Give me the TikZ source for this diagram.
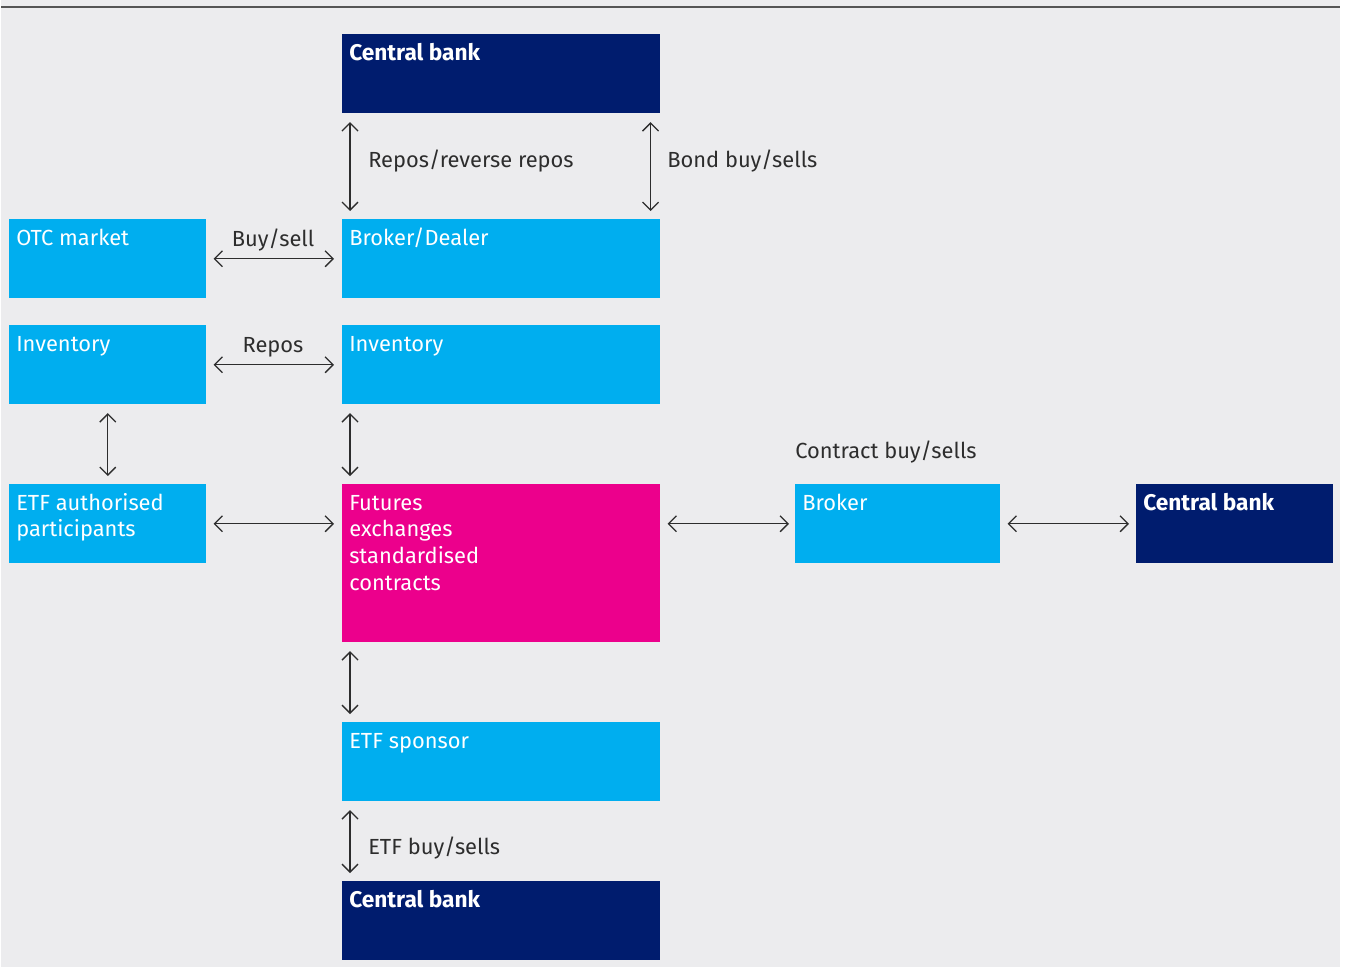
\documentclass[tikz,border=0pt]{standalone}
\usepackage{fontspec}
\setmainfont{Fira Sans}
\usetikzlibrary{arrows.meta,calc}
\definecolor{navy}{RGB}{0,28,110}
\definecolor{cyanbox}{RGB}{0,174,239}
\definecolor{magbox}{RGB}{236,0,140}
\definecolor{bg}{RGB}{236,236,238}
\definecolor{txt}{RGB}{45,45,45}
\definecolor{rule}{RGB}{85,85,85}
\tikzset{
  box/.style={draw=none, inner sep=0pt, anchor=north west, minimum width=238.5pt, minimum height=59.25pt},
  narrowbox/.style={box, minimum width=147.75pt},
  boxtext/.style={text=white, anchor=base west, inner sep=0pt, font=\fontsize{16.4}{20}\selectfont, xshift=5.25pt, yshift=-19.5pt},
  boldtext/.style={boxtext, font=\fontsize{17}{20}\selectfont\bfseries},
  lbl/.style={text=txt, inner sep=0pt, font=\fontsize{16.4}{20}\selectfont},
  arr/.style={draw=txt, line width=0.95pt, {Straight Barb[length=6pt,width=12pt]}-{Straight Barb[length=6pt,width=12pt]}},
}
\newcommand{\lines}[1]{\begin{tabular}[t]{@{}l@{}}#1\end{tabular}}
\begin{document}
\begin{tikzpicture}[x=0.75pt,y=-0.75pt]
\useasboundingbox (0,0) rectangle (1345,967);
\fill[white] (0,0) rectangle (1345,967);
\fill[bg] (1,0) rectangle (1340,967);
\draw[rule, line width=1.5pt] (1,7) -- (1340,7);

\node[box, fill=navy, label={[boldtext]north west:Central bank}] (cbtop) at (342,34) {};
\node[narrowbox, fill=cyanbox, label={[boxtext]north west:OTC market}] (otc) at (9,219) {};
\node[box, fill=cyanbox, label={[boxtext]north west:Broker/Dealer}] (bd) at (342,219) {};
\node[narrowbox, fill=cyanbox, label={[boxtext]north west:Inventory}] (invl) at (9,325) {};
\node[box, fill=cyanbox, label={[boxtext]north west:Inventory}] (invr) at (342,325) {};
\node[narrowbox, fill=cyanbox, label={[boxtext]north west:\lines{ETF authorised\\participants}}] (etfap) at (9,484) {};
\node[box, fill=magbox, minimum height=118.5pt, label={[boxtext]north west:\lines{Futures\\exchanges\\standardised\\contracts}}] (fut) at (342,484) {};
\node[box, fill=cyanbox, minimum width=153.75pt, label={[boxtext]north west:Broker}] (brk) at (795,484) {};
\node[narrowbox, fill=navy, label={[boldtext]north west:Central bank}] (cbright) at (1136,484) {};
\node[box, fill=cyanbox, label={[boxtext]north west:ETF sponsor}] (etfs) at (342,722) {};
\node[box, fill=navy, label={[boldtext]north west:Central bank}] (cbbot) at (342,881) {};

% connectors
\draw[arr, shorten <=6.5pt, shorten >=6pt] ([xshift=6pt]cbtop.south west) -- ([xshift=6pt]bd.north west);
\draw[arr, shorten <=6.5pt, shorten >=6pt] ([xshift=-7.5pt]cbtop.south east) -- ([xshift=-7.5pt]bd.north east);
\draw[arr, shorten <=5.25pt, shorten >=6pt] (otc.east) -- (otc.east -| bd.west);
\draw[arr, shorten <=5.25pt, shorten >=6pt] (invl.east) -- (invl.east -| invr.west);
\draw[arr, shorten <=6.5pt, shorten >=6pt] (invl.south) -- (etfap.north);
\draw[arr, shorten <=6.5pt, shorten >=6pt] ([xshift=6pt]invr.south west) -- ([xshift=6pt]invr.south west |- fut.north);
\draw[arr, shorten <=5.25pt, shorten >=6pt] (etfap.east) -- (etfap.east -| fut.west);
\draw[arr, shorten <=5.25pt, shorten >=4.5pt] (brk.west -| fut.east) -- (brk.west);
\draw[arr, shorten <=5.25pt, shorten >=5.25pt] (brk.east) -- (cbright.west);
\draw[arr, shorten <=6.5pt, shorten >=6pt] ([xshift=6pt]fut.south west) -- ([xshift=6pt]etfs.north west);
\draw[arr, shorten <=6.5pt, shorten >=6pt] ([xshift=6pt]etfs.south west) -- ([xshift=6pt]cbbot.north west);

% connector labels
\node[lbl, anchor=base west] (l1) at (368,167) {Repos/reverse repos};
\node[lbl, anchor=base west] (l2) at (667,167) {Bond buy/sells};
\node[lbl, anchor=base] (l3) at (273,246) {Buy/sell};
\node[lbl, anchor=base] (l4) at (273,352) {Repos};
\node[lbl, anchor=base west] (l5) at (795,458) {Contract buy/sells};
\node[lbl, anchor=base west] (l6) at (368,854) {ETF buy/sells};
\end{tikzpicture}
\end{document}
